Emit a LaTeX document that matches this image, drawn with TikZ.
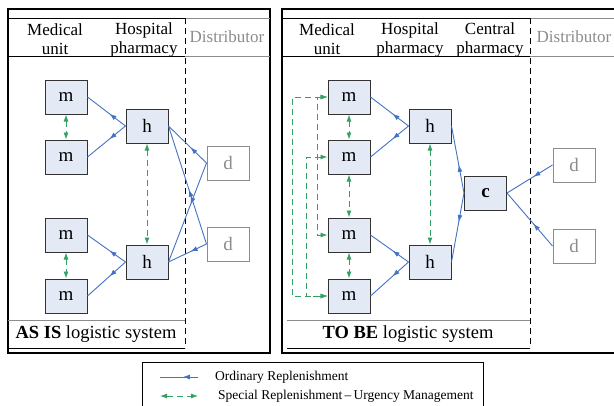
\documentclass[tikz,border=0pt]{standalone}
\usepackage{fontspec}
\setmainfont{Liberation Serif}
\usetikzlibrary{arrows.meta,decorations.markings,calc}
\definecolor{flowblue}{HTML}{4472C4}
\definecolor{urggreen}{HTML}{35A064}
\definecolor{boxfill}{HTML}{E4EAF5}
\definecolor{distgray}{HTML}{8C8C8C}
\tikzset{
  unitbox/.style={draw=black!80, fill=boxfill, line width=1pt, minimum width=42pt, minimum height=34pt, inner sep=0pt, font=\fontsize{19}{19}\selectfont},
  distbox/.style={draw=distgray, line width=1pt, minimum width=42pt, minimum height=34pt, inner sep=0pt, text=distgray, font=\fontsize{19}{19}\selectfont},
  flow/.style={flowblue, line width=0.9pt, postaction={decorate},
    decoration={markings, mark=at position #1 with {\arrow{Latex[length=7pt,width=5pt]}}}},
  flow/.default=0.42,
  urg/.style={urggreen, line width=0.9pt, dash pattern=on 6pt off 4pt,
    {Latex[length=7pt,width=5pt]}-{Latex[length=7pt,width=5pt]}},
  frame/.style={line width=2pt, black},
  thinblack/.style={line width=0.8pt, black},
  thingray/.style={line width=0.8pt, distgray},
  sepline/.style={line width=1pt, black, dash pattern=on 6pt off 4pt},
  headtxt/.style={align=center, font=\fontsize{17}{19}\selectfont, inner sep=0pt},
  disttxt/.style={font=\fontsize{17}{19}\selectfont, text=distgray, inner sep=0pt},
  captxt/.style={font=\fontsize{18.5}{20}\selectfont, inner sep=0pt, anchor=base},
  legtxt/.style={font=\fontsize{13.5}{15}\selectfont, inner sep=0pt, anchor=west}
}
\begin{document}
\begin{tikzpicture}[x=1pt,y=-1pt]
\useasboundingbox (0,0) rectangle (614,405);
\clip (0,0) rectangle (614,405);
\fill[white] (0,0) rectangle (614,405);

% ---------- left panel ----------
\draw[frame] (8,9) rectangle (270,353);
\draw[thinblack] (8,18) -- (185,18);
\draw[thingray] (185,18) -- (270,18);
\draw[thinblack] (8,56) -- (185,56);
\draw[thingray] (185,56) -- (270,56);
\draw[sepline] (185,18) -- (185,348);
\draw[thingray] (8,320) -- (185,320);
\draw[thinblack] (8,348) -- (185,348);

\node[headtxt] (lh1) at (55,39.5) {Medical\\unit};
\node[headtxt] (lh2) at (144,39.5) {Hospital\\pharmacy};
\node[disttxt] (lh3) at (227,37) {Distributor};
\node[captxt] (lcap) at (96,338) {\textbf{AS IS} logistic system};

\node[unitbox] (lm1) at (66,97) {m};
\node[unitbox] (lm2) at (66,157) {m};
\node[unitbox] (lm3) at (66,235) {m};
\node[unitbox] (lm4) at (66,296) {m};
\node[unitbox] (lha) at (147,126) {h};
\node[unitbox] (lhb) at (147,262) {h};
\node[distbox] (lda) at (228,163) {d};
\node[distbox] (ldb) at (228,244) {d};

\draw[flow] (lha.west) -- (lm1.east);
\draw[flow] (lha.west) -- (lm2.east);
\draw[flow] (lhb.west) -- (lm3.east);
\draw[flow] (lhb.west) -- (lm4.east);
\draw[flow] (lda.west) -- (lha.east);
\draw[flow] (lda.west) -- (lhb.east);
\draw[flow=0.46] (ldb.west) -- (lha.east);
\draw[flow] (ldb.west) -- (lhb.east);
\draw[urg] (lm1.south) -- (lm2.north);
\draw[urg] (lm3.south) -- (lm4.north);
\draw[urg] (lha.south) -- (lhb.north);

% ---------- right panel ----------
\draw[frame] (282,9) rectangle (640,353);
\draw[thinblack] (282,18) -- (530,18);
\draw[thingray] (530,18) -- (640,18);
\draw[thinblack] (282,56) -- (530,56);
\draw[thingray] (530,56) -- (640,56);
\draw[sepline] (530,18) -- (530,348);
\draw[thingray] (287,320) -- (530,320);
\draw[thinblack] (287,348) -- (530,348);

\node[headtxt] (rh1) at (327,39.5) {Medical\\unit};
\node[headtxt] (rh2) at (410,39.5) {Hospital\\pharmacy};
\node[headtxt] (rh3) at (490,39.5) {Central\\pharmacy};
\node[disttxt] (rh4) at (574,37) {Distributor};
\node[captxt] (rcap) at (408,338) {\textbf{TO BE} logistic system};

\node[unitbox] (rm1) at (349,97) {m};
\node[unitbox] (rm2) at (349,157) {m};
\node[unitbox] (rm3) at (349,235) {m};
\node[unitbox] (rm4) at (349,296) {m};
\node[unitbox] (rha) at (430,126) {h};
\node[unitbox] (rhb) at (430,262) {h};
\node[unitbox] (rc) at (485.5,193) {\textbf{c}};
\node[distbox] (rda) at (574,165) {d};
\node[distbox] (rdb) at (574,246) {d};

\draw[flow] (rha.west) -- (rm1.east);
\draw[flow] (rha.west) -- (rm2.east);
\draw[flow] (rhb.west) -- (rm3.east);
\draw[flow] (rhb.west) -- (rm4.east);
\draw[flow] (rc.west) -- (rha.east);
\draw[flow] (rc.west) -- (rhb.east);
\draw[flow] (rda.west) -- (rc.east);
\draw[flow] (rdb.west) -- (rc.east);
\draw[urg] (rm1.south) -- (rm2.north);
\draw[urg] (rm2.south) -- (rm3.north);
\draw[urg] (rm3.south) -- (rm4.north);
\draw[urg] (rha.south) -- (rhb.north);
\draw[urg] (rm1.west) -- ++(-35,0) |- (rm4.west);
\draw[urg] (rm2.west) -- ++(-21,0) |- (rm4.west);
\draw[urg] (rm1.west) -- ++(-10,0) |- (rm3.west);

% ---------- legend ----------
\draw[line width=1pt] (142,420) -- (142,362) -- (483,362) -- (483,420);
\coordinate (lgA1) at (198,377);
\coordinate (lgA2) at (160,377);
\coordinate (lgB1) at (160,396);
\coordinate (lgB2) at (198,396);
\draw[flow=0.4] (lgA1) -- (lgA2);
\draw[urg] (lgB1) -- (lgB2);
\node[legtxt] (lgt1) at (215,377) {Ordinary Replenishment};
\node[legtxt] (lgt2) at (218,396) {Special Replenishment\,--\,Urgency Management};
\end{tikzpicture}
\end{document}
